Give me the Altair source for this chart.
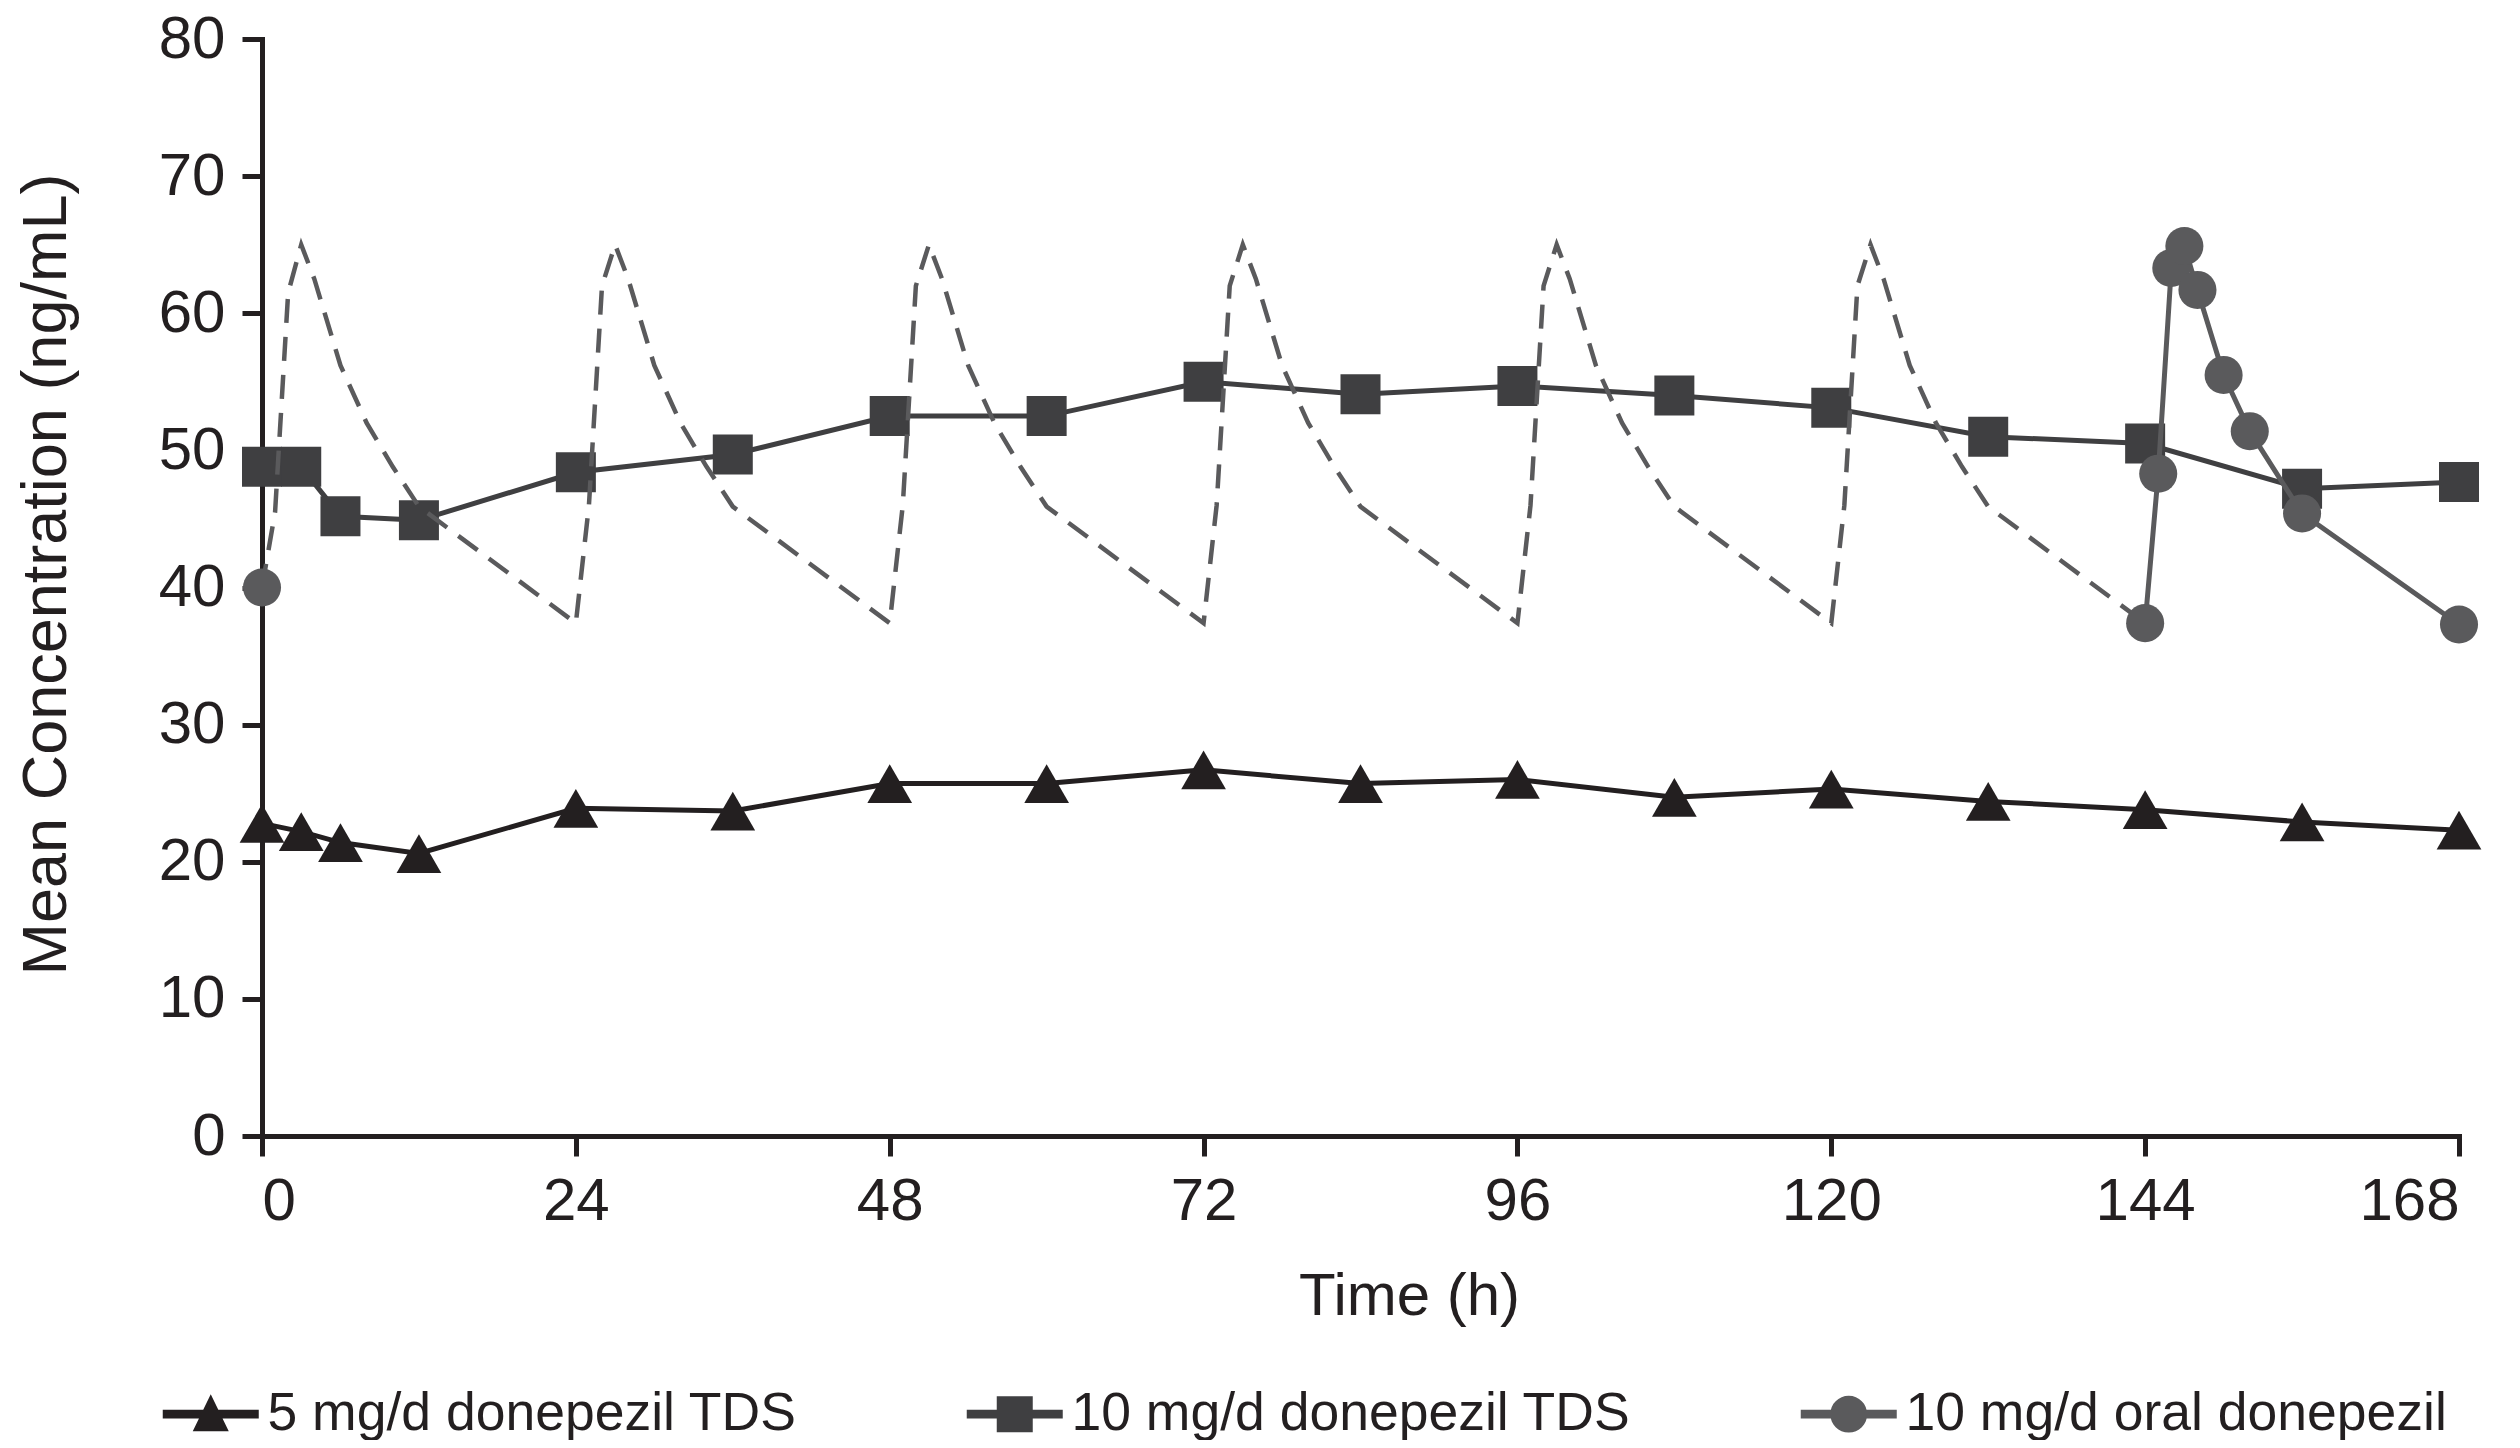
import altair as alt
import pandas as pd

# ---------------- data ----------------
series_names = ["5 mg/d donepezil TDS", "10 mg/d donepezil TDS", "10 mg/d oral donepezil"]
series_colors = ["#231f20", "#3f3f41", "#5a5a5c"]

tds_hours = [0, 3, 6, 12, 24, 36, 48, 60, 72, 84, 96, 108, 120, 132, 144, 156, 168]
tds_5mg = [22.8, 22.2, 21.4, 20.6, 23.9, 23.7, 25.7, 25.7, 26.7, 25.7, 26.0, 24.7, 25.3, 24.4, 23.8, 22.9, 22.3]
tds_10mg = [48.8, 48.8, 45.2, 44.9, 48.4, 49.7, 52.5, 52.5, 55.0, 54.1, 54.7, 54.0, 53.1, 51.0, 50.5, 47.2, 47.7]

oral_hours = [0, 144, 145, 146, 147, 148, 150, 152, 156, 168]
oral_conc = [40.0, 37.4, 48.3, 63.3, 64.9, 61.7, 55.5, 51.4, 45.4, 37.3]

# simulated oral profile (dashed)
sim_hours = [0, 1, 2, 3, 4, 6, 8, 10, 12,
             24, 25, 26, 27, 28, 30, 32, 34, 36,
             48, 49, 50, 51, 52, 54, 56, 58, 60,
             72, 73, 74, 75, 76, 78, 80, 82, 84,
             96, 97, 98, 99, 100, 102, 104, 106, 108,
             120, 121, 122, 123, 124, 126, 128, 130, 132,
             144]
sim_conc = [40.0, 45.5, 61.5, 65.0, 62.5, 56.2, 52.0, 48.8, 45.9,
            37.4, 46.0, 62.0, 65.0, 62.5, 56.2, 52.0, 48.8, 45.9,
            37.4, 46.0, 62.0, 65.0, 62.5, 56.2, 52.0, 48.8, 45.9,
            37.4, 46.0, 62.0, 65.0, 62.5, 56.2, 52.0, 48.8, 45.9,
            37.4, 46.0, 62.0, 65.0, 62.5, 56.2, 52.0, 48.8, 45.9,
            37.4, 46.0, 62.0, 65.0, 62.5, 56.2, 52.0, 48.8, 45.9,
            37.4]

x_ticks = [0, 24, 48, 72, 96, 120, 144, 168]
y_ticks = [0, 10, 20, 30, 40, 50, 60, 70, 80]

# legend symbols: line with marker (custom paths)
legend_paths = [
    "M-2.4,-0.22H2.4V0.22H-2.4Z M0,-1.0L0.9,0.85H-0.9Z",
    "M-2.4,-0.22H2.4V0.22H-2.4Z M-0.9,-0.9H0.9V0.9H-0.9Z",
    "M-2.4,-0.22H2.4V0.22H-2.4Z M-0.92,0A0.92,0.92 0 1,1 0.92,0A0.92,0.92 0 1,1 -0.92,0Z",
]

# ---------------- tables ----------------
df5 = pd.DataFrame({"t": tds_hours, "v": tds_5mg})
df10 = pd.DataFrame({"t": tds_hours, "v": tds_10mg})
dfo = pd.DataFrame({"t": oral_hours, "v": oral_conc})
dfs = pd.DataFrame({"t": sim_hours, "v": sim_conc})
dfl = pd.DataFrame({"series": series_names, "t": [0, 0, 0], "v": [-100, -100, -100]})

FONT = "Liberation Sans"
INK = "#231f20"

X = alt.X("t:Q", scale=alt.Scale(domain=[0, 168], nice=False, zero=False),
          axis=alt.Axis(values=x_ticks, title="Time (h)", titleX=1147, titleY=131,
                        labelPadding=16))
Y = alt.Y("v:Q", scale=alt.Scale(domain=[0, 80], nice=False),
          axis=alt.Axis(values=y_ticks, title="Mean Concentration (ng/mL)",
                        titleX=-184, titleY=535, titleFontSize=63, labelPadding=17))

tri_line = alt.Chart(df5).mark_line(color=series_colors[0], strokeWidth=5).encode(x=X, y=Y)
tri_pts = alt.Chart(df5).mark_point(shape="triangle-up", filled=True, size=2000,
                                    color=series_colors[0], opacity=1).encode(x=X, y=Y)
sq_line = alt.Chart(df10).mark_line(color=series_colors[1], strokeWidth=5).encode(x=X, y=Y)
sq_pts = alt.Chart(df10).mark_point(shape="square", filled=True, size=1600,
                                    color=series_colors[1], opacity=1).encode(x=X, y=Y)
sim_line = alt.Chart(dfs).mark_line(color=series_colors[2], strokeWidth=4.5,
                                    strokeDash=[24, 14]).encode(x=X, y=Y)
oral_line = alt.Chart(dfo).transform_filter(alt.datum.t >= 144).mark_line(
    color=series_colors[2], strokeWidth=5).encode(x=X, y=Y)
oral_pts = alt.Chart(dfo).mark_point(shape="circle", filled=True, size=1450,
                                     color=series_colors[2], opacity=1).encode(x=X, y=Y)

leg = alt.Legend(orient="none", legendX=-78, legendY=1348, direction="horizontal",
                 columns=3, title=None, symbolSize=1600, labelOffset=30,
                 columnPadding=169, labelFont=FONT, labelFontSize=53.5, labelColor=INK,
                 symbolStrokeWidth=0, padding=0, labelLimit=1000)
legend_layer = alt.Chart(dfl).mark_point(filled=True, opacity=1, clip=True).encode(
    x=X, y=Y,
    color=alt.Color("series:N", scale=alt.Scale(domain=series_names, range=series_colors),
                    sort=series_names, legend=leg),
    shape=alt.Shape("series:N", scale=alt.Scale(domain=series_names, range=legend_paths),
                    sort=series_names, legend=leg),
)

chart = alt.layer(tri_line, tri_pts, sq_line, sq_pts, sim_line, oral_line, oral_pts,
                  legend_layer).properties(
    width=2197, height=1097,
    padding={"left": 254, "top": 31, "right": 45, "bottom": 304},
    autosize=alt.AutoSizeParams(type="none"),
    background="white",
).configure_view(stroke=None).configure_axis(
    grid=False,
    domainColor=INK, domainWidth=5, domainCap="square",
    tickColor=INK, tickWidth=5, tickSize=20,
    labelFont=FONT, labelFontSize=60, labelColor=INK,
    titleFont=FONT, titleFontSize=60, titleColor=INK, titleFontWeight="normal",
)

chart.save("out.html", embed_options={"renderer": "svg", "actions": False})
